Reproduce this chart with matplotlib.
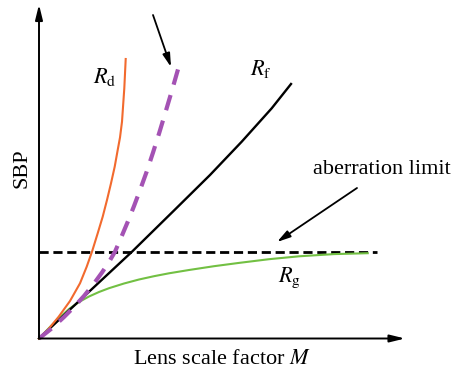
import matplotlib
matplotlib.use("Agg")
import matplotlib.pyplot as plt

plt.rcParams['font.family'] = ['Liberation Serif', 'DejaVu Serif']
plt.rcParams['mathtext.fontset'] = 'stix'

# Data (arbitrary units)
rd_x = [0, 8.7, 19.7, 31, 41, 47.7, 53, 58.7, 63.7, 68, 72, 75.7, 78.7, 81, 83, 85.3, 86.7]
rd_y = [0, 8.5, 21.8, 37.5, 55.2, 71.8, 86.8, 105.2, 121.8, 138.5, 155.2, 171.8, 188.5, 201, 216.8, 250.2, 279.5]

pu_x = [0, 12, 25, 35, 45, 55, 63, 70, 76, 82.3, 88.7, 95.0, 101.3, 107.7, 114.0, 120.3, 126.6, 133.0, 139.3]
pu_y = [0, 9.5, 21.5, 31.5, 42.5, 55, 66, 76.5, 86.8, 101.4, 116.6, 132.4, 149.2, 166.9, 185.9, 205.8, 226.7, 248.2, 270.2]

rf_x = [0, 46, 93, 134.5, 171, 202.7, 232.7, 252]
rf_y = [0, 43, 86.8, 127.5, 163.5, 196.8, 230.2, 254.5]

rg_x = [0, 10, 20, 30, 40, 50, 60, 70, 85, 100, 115, 130, 150, 175, 200, 230, 260, 295, 328.7]
rg_y = [0, 10.5, 20.5, 29.5, 36.5, 42, 46.5, 50.3, 55, 59, 62.3, 65.2, 68.5, 72.3, 75.6, 79.3, 82.2, 84.4, 85.3]

limit_y = 86.2
limit_x = [0, 337.7]

fig = plt.figure(figsize=(4.68, 3.72), dpi=100)
W, H = 468, 372
ox, oy = 39, 338.5
xmax_px, ytop_px = 405, 4.5
ax = fig.add_axes([ox / W, (H - oy) / H, (xmax_px - ox) / W, (oy - ytop_px) / H])
ax.set_xlim(0, xmax_px - ox)
ax.set_ylim(0, oy - ytop_px)
ax.axis('off')

# axes arrows
for tip in [(1, 0), (0, 1)]:
    ax.annotate('', xy=tip, xytext=(0, 0), xycoords='axes fraction',
                arrowprops=dict(arrowstyle='-|>,head_length=0.9,head_width=0.22', color='black', lw=1.4,
                                shrinkA=0, shrinkB=0))

ax.plot(limit_x, [limit_y, limit_y], color='black', lw=2.0, dashes=(3.3, 1.7), clip_on=False)
ax.plot(rg_x, rg_y, color='#72C043', lw=1.5, clip_on=False, solid_joinstyle='round')
ax.plot(rf_x, rf_y, color='black', lw=1.7, clip_on=False, solid_joinstyle='round')
ax.plot(rd_x, rd_y, color='#F26A2E', lw=1.5, clip_on=False, solid_joinstyle='round')
ax.plot(pu_x, pu_y, color='#A452B4', lw=3, dashes=(3.8, 2.6), clip_on=False)

# annotation arrows
ax.annotate('', xy=(132, 271.5), xytext=(114, 323.5),
            arrowprops=dict(arrowstyle='-|>,head_length=0.8,head_width=0.22', color='black', lw=1.3,
                            shrinkA=0, shrinkB=0))
ax.annotate('', xy=(238, 96.5), xytext=(318, 150.5),
            arrowprops=dict(arrowstyle='-|>,head_length=0.8,head_width=0.22', color='black', lw=1.3,
                            shrinkA=0, shrinkB=0))

fs = 16
ax.text(65.5, 261, r'$R_{\mathrm{d}}$', fontsize=fs, ha='center', va='center')
ax.text(222, 269.5, r'$R_{\mathrm{f}}$', fontsize=fs, ha='center', va='center')
ax.text(251, 61, r'$R_{\mathrm{g}}$', fontsize=fs, ha='center', va='center')
ax.text(342.5, 168.5, 'aberration limit', fontsize=fs, ha='center', va='center')

fig.text(22 / W, 1 - 168 / H, 'SBP', fontsize=fs, rotation=90, ha='center', va='center')
fig.text(222 / W, 1 - 359.5 / H, r'Lens scale factor $M$', fontsize=fs, ha='center', va='center')

fig.savefig('out.png', dpi=100, facecolor='white')
